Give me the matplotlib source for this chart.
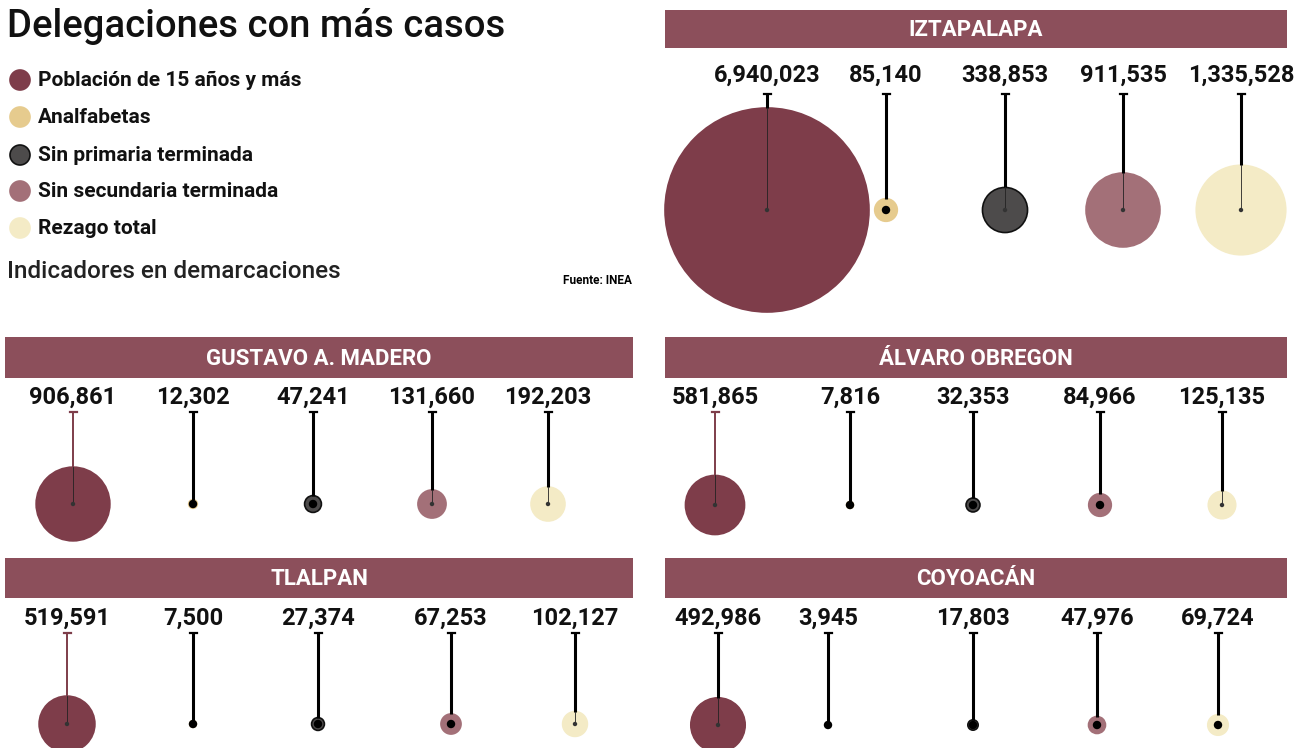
import numpy as np
import matplotlib
matplotlib.use('Agg')
import matplotlib.pyplot as plt
from matplotlib.patches import Circle, Rectangle

plt.rcParams['font.family'] = ['Roboto', 'DejaVu Sans']

# data
indicadores = ['Población de 15 años y más', 'Analfabetas', 'Sin primaria terminada',
               'Sin secundaria terminada', 'Rezago total']
delegaciones = ['IZTAPALAPA', 'GUSTAVO A. MADERO', 'ÁLVARO OBREGON', 'TLALPAN', 'COYOACÁN']
iztapalapa = [6940023, 85140, 338853, 911535, 1335528]
gustavo_a_madero = [906861, 12302, 47241, 131660, 192203]
alvaro_obregon = [581865, 7816, 32353, 84966, 125135]
tlalpan = [519591, 7500, 27374, 67253, 102127]
coyoacan = [492986, 3945, 17803, 47976, 69724]
valores = [iztapalapa, gustavo_a_madero, alvaro_obregon, tlalpan, coyoacan]

# styles / layout (pixels)
colores = ['#7e3d4a', '#e6cb8e', '#4d4b4b', '#a37078', '#f4ebc6']
bordes = ['#7e3d4a', '#e6cb8e', '#111111', '#a37078', '#f4ebc6']
header_color = '#8c4f5b'
# header box: x0, x1, y0, y1 ; stem top y ; center y ; label y
paneles = [
    dict(box=(665, 1287, 10, 48), xs=[767, 886, 1005, 1123, 1241], top=94, cy=210, ly=75, first='black'),
    dict(box=(5, 633, 337, 378), xs=[73, 193, 313, 432, 548], top=412, cy=504, ly=397, first='#7e3d4a'),
    dict(box=(665, 1287, 337, 378), xs=[715, 850, 973, 1100, 1222], top=412, cy=505, ly=397, first='#7e3d4a'),
    dict(box=(5, 633, 558, 598), xs=[67, 193, 318, 451, 575], top=633, cy=724, ly=618, first='#7e3d4a'),
    dict(box=(665, 1287, 558, 598), xs=[718, 828, 973, 1097, 1218], top=633, cy=725, ly=618, first='black'),
]

vmax = max(max(v) for v in valores)
R_MAX = 102.0


def radio(v):
    return R_MAX * np.sqrt(v / vmax)


fig = plt.figure(figsize=(12.96, 7.48), dpi=100)
ax = fig.add_axes([0, 0, 1, 1])
ax.set_xlim(0, 1296)
ax.set_ylim(748, 0)
ax.set_aspect('equal')
ax.axis('off')

# title and legend
ax.text(7, 26, 'Delegaciones con más casos', fontsize=27.5, fontweight='medium',
        va='center', ha='left', color='#111111')
leg_y = [80, 117, 155, 191, 228]
for y, lab, c, b in zip(leg_y, indicadores, colores, bordes):
    ax.add_patch(Circle((20, y), 10, facecolor=c, edgecolor=b, lw=1.2))
    ax.text(38, y, lab, fontsize=15, fontweight='bold', va='center', ha='left', color='#111111')
ax.text(7, 271, 'Indicadores en demarcaciones', fontsize=17.5, fontweight='medium',
        va='center', ha='left', color='#222222')
ax.text(632, 280, 'Fuente: INEA', fontsize=8.5, fontweight='bold', va='center', ha='right')

for nombre, vals, p in zip(delegaciones, valores, paneles):
    x0, x1, y0, y1 = p['box']
    ax.add_patch(Rectangle((x0, y0), x1 - x0, y1 - y0, facecolor=header_color, edgecolor='none'))
    ax.text((x0 + x1) / 2, (y0 + y1) / 2 + 1, nombre, color='white', fontsize=16, fontweight='bold',
            ha='center', va='center')
    cy = p['cy']
    for i, (x, v) in enumerate(zip(p['xs'], vals)):
        r = radio(v)
        ax.add_patch(Circle((x, cy), r, facecolor=colores[i], edgecolor=bordes[i], lw=1.2, zorder=2))
        stem_c = p['first'] if i == 0 else 'black'
        stem_w = 1.4 if (i == 0 and stem_c != 'black') else 2.2
        ax.plot([x, x], [p['top'], max(cy - r, p['top'])], color=stem_c, lw=stem_w,
                solid_capstyle='butt', zorder=3)
        ax.plot([x - 3.5, x + 3.5], [p['top'], p['top']], color=stem_c, lw=1.6, zorder=3)
        if r > 12:
            ax.plot([x, x], [cy - r, cy], color='#222222', lw=0.6, zorder=3)
            ax.add_patch(Circle((x, cy), 1.5, color='#333333', zorder=4))
        else:
            ax.add_patch(Circle((x, cy), 3.5, color='black', zorder=4))
        ax.text(x, p['ly'], f'{v:,}', fontsize=17, fontweight='bold', ha='center', va='center',
                color='#111111')

fig.savefig('out.png', dpi=100, facecolor='white')
